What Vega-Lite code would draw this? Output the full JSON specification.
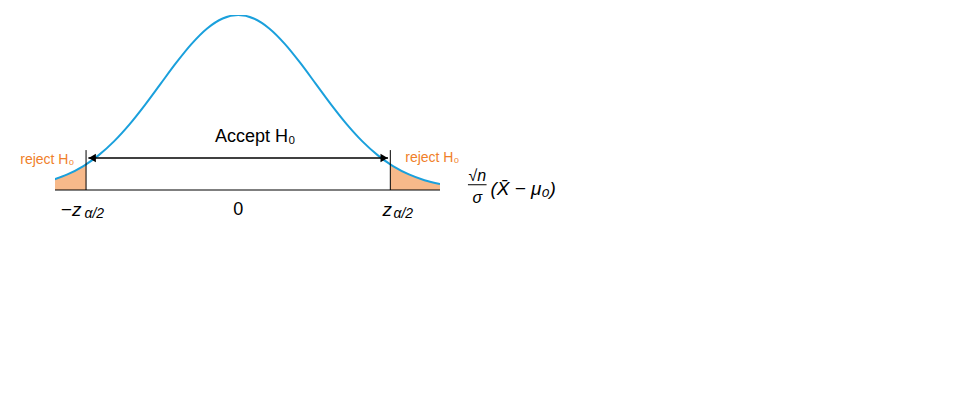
{
  "$schema": "https://vega.github.io/schema/vega-lite/v6.json",
  "width": 385,
  "height": 175,
  "autosize": "none",
  "padding": {"left": 55, "top": 15, "right": 532, "bottom": 218},
  "background": "white",
  "config": {"view": {"stroke": null}, "text": {"font": "Liberation Sans"}},
  "datasets": {
    "curve": [
      {"z": -2.4, "d": 0.0224}, {"z": -2.2, "d": 0.0355}, {"z": -2.0, "d": 0.054}, {"z": -1.96, "d": 0.0584},
      {"z": -1.8, "d": 0.079}, {"z": -1.6, "d": 0.1109}, {"z": -1.4, "d": 0.1497}, {"z": -1.2, "d": 0.1942},
      {"z": -1.0, "d": 0.242}, {"z": -0.8, "d": 0.2897}, {"z": -0.6, "d": 0.3332}, {"z": -0.4, "d": 0.3683},
      {"z": -0.2, "d": 0.391}, {"z": 0, "d": 0.3989}, {"z": 0.2, "d": 0.391}, {"z": 0.4, "d": 0.3683},
      {"z": 0.6, "d": 0.3332}, {"z": 0.8, "d": 0.2897}, {"z": 1.0, "d": 0.242}, {"z": 1.2, "d": 0.1942},
      {"z": 1.4, "d": 0.1497}, {"z": 1.6, "d": 0.1109}, {"z": 1.8, "d": 0.079}, {"z": 1.96, "d": 0.0584},
      {"z": 2.0, "d": 0.054}, {"z": 2.2, "d": 0.0355}, {"z": 2.4, "d": 0.0224}, {"z": 2.6, "d": 0.0136}
    ]
  },
  "encoding": {
    "x": {"field": "z", "type": "quantitative", "scale": {"domain": [-2.36, 2.6], "nice": false, "zero": false}, "axis": null},
    "y": {"field": "d", "type": "quantitative", "scale": {"domain": [0, 0.399], "nice": false}, "axis": null}
  },
  "layer": [
    {
      "data": {"name": "curve"},
      "transform": [{"filter": "datum.z <= -1.96"}],
      "mark": {"type": "area", "color": "#f07f2a", "opacity": 0.55, "interpolate": "monotone", "clip": true}
    },
    {
      "data": {"name": "curve"},
      "transform": [{"filter": "datum.z >= 1.96"}],
      "mark": {"type": "area", "color": "#f07f2a", "opacity": 0.55, "interpolate": "monotone", "clip": true}
    },
    {
      "data": {"name": "curve"},
      "mark": {"type": "line", "color": "#1aa0dc", "strokeWidth": 2, "interpolate": "monotone", "clip": true}
    },
    {
      "data": {"values": [{"z": -2.36, "z2": 2.6, "d": 0}]},
      "mark": {"type": "rule", "color": "black", "strokeWidth": 1.2},
      "encoding": {"x2": {"field": "z2"}}
    },
    {
      "data": {"values": [{"z": -1.96, "d": 0, "d2": 0.091}, {"z": 1.96, "d": 0, "d2": 0.091}]},
      "mark": {"type": "rule", "color": "black", "strokeWidth": 1},
      "encoding": {"y2": {"field": "d2"}}
    },
    {
      "data": {"values": [{"z": -1.93, "z2": 1.93, "d": 0.073}]},
      "mark": {"type": "rule", "color": "black", "strokeWidth": 1.5},
      "encoding": {"x2": {"field": "z2"}}
    },
    {
      "data": {"values": [{"z": -1.88, "d": 0.073, "dir": "triangle-left"}, {"z": 1.88, "d": 0.073, "dir": "triangle-right"}]},
      "mark": {"type": "point", "filled": true, "color": "black", "opacity": 1, "size": 70},
      "encoding": {"shape": {"field": "dir", "type": "nominal", "scale": {"domain": ["triangle-left", "triangle-right"], "range": ["triangle-left", "triangle-right"]}, "legend": null}}
    },
    {
      "data": {"values": [{"z": 0.22, "d": 0.12, "t": "Accept H₀"}, {"z": 0, "d": -0.046, "t": "0"}]},
      "mark": {"type": "text", "fontSize": 18, "color": "black", "clip": false},
      "encoding": {"text": {"field": "t"}}
    },
    {
      "data": {"values": [{"z": -2.46, "d": 0.068, "t": "reject H₀"}, {"z": 2.5, "d": 0.073, "t": "reject H₀"}]},
      "mark": {"type": "text", "fontSize": 14, "color": "#f07f2a", "clip": false},
      "encoding": {"text": {"field": "t"}}
    },
    {
      "data": {"values": [{"z": -2.02, "d": -0.046, "t": "−z"}, {"z": 1.98, "d": -0.046, "t": "z"}]},
      "mark": {"type": "text", "fontSize": 19, "fontStyle": "italic", "color": "black", "align": "right", "clip": false},
      "encoding": {"text": {"field": "t"}}
    },
    {
      "data": {"values": [{"z": 3.08, "d": 0.032, "t": "√n"}, {"z": 3.08, "d": -0.018, "t": "σ"}]},
      "mark": {"type": "text", "fontSize": 16, "fontStyle": "italic", "color": "black", "align": "center", "clip": false},
      "encoding": {"text": {"field": "t"}}
    },
    {
      "data": {"values": [{"z": 3.25, "d": 0.002, "t": "(X̄ − μ₀)"}]},
      "mark": {"type": "text", "fontSize": 19, "fontStyle": "italic", "color": "black", "align": "left", "clip": false},
      "encoding": {"text": {"field": "t"}}
    },
    {
      "data": {"values": [{"z": -1.98, "d": -0.038, "t": "α/2"}, {"z": 2.0, "d": -0.038, "t": "α/2"}]},
      "mark": {"type": "text", "fontSize": 14, "fontStyle": "italic", "color": "black", "align": "left", "baseline": "top", "clip": false},
      "encoding": {"text": {"field": "t"}}
    },
    {
      "data": {"values": [{"z": 2.96, "z2": 3.2, "d": 0.012}]},
      "mark": {"type": "rule", "color": "black", "strokeWidth": 1, "clip": false},
      "encoding": {"x2": {"field": "z2"}}
    }
  ]
}
